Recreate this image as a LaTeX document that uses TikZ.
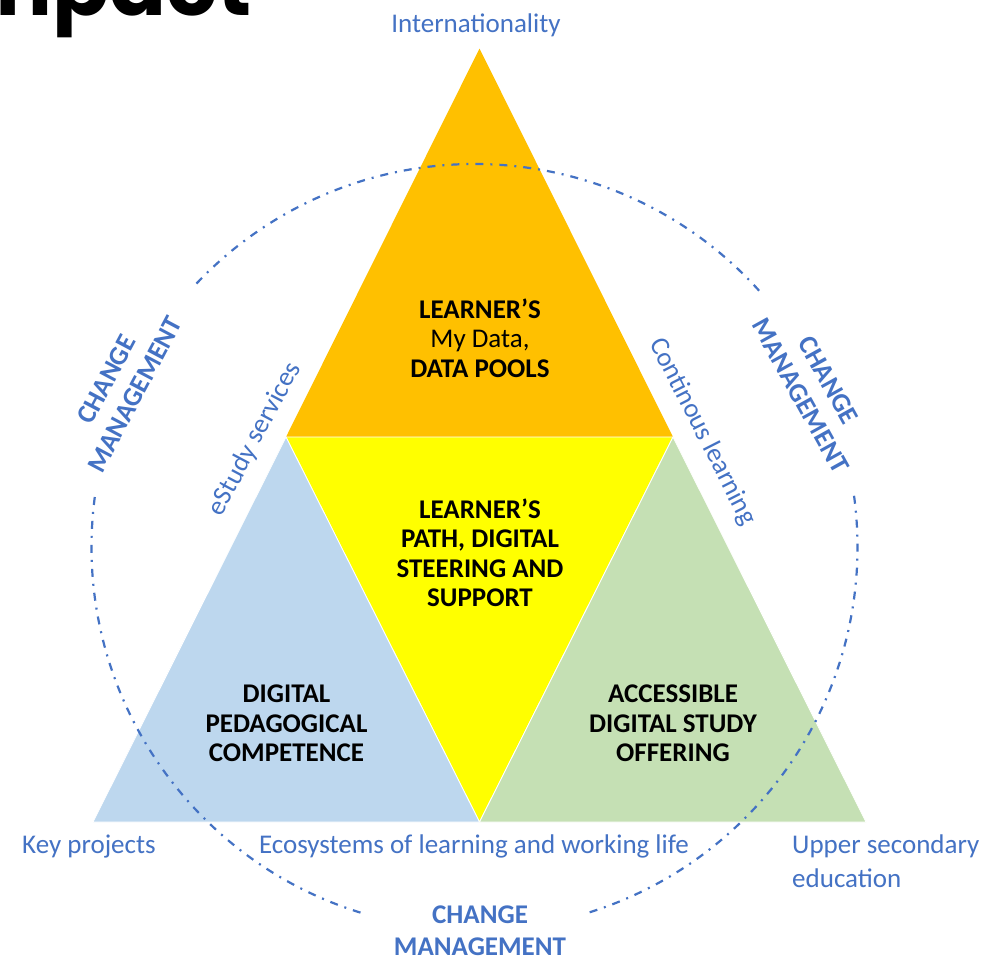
\documentclass[tikz,border=0pt]{standalone}
\usepackage{fontspec}
\setmainfont{Carlito}
\newfontfamily\titlefont{Poppins}
\definecolor{cmblue}{HTML}{4472C4}
\definecolor{torange}{HTML}{FFC000}
\definecolor{tyellow}{HTML}{FFFF00}
\definecolor{tblue}{HTML}{BDD7EE}
\definecolor{tgreen}{HTML}{C5E0B4}
\begin{document}
\begin{tikzpicture}[x=1pt,y=1pt,
  lbl/.style={text=cmblue, font=\fontsize{27}{30}\selectfont, inner sep=0pt},
  cmlbl/.style={text=cmblue, font=\bfseries\fontsize{27}{32}\selectfont, align=center, inner sep=0pt},
  innerlbl/.style={text=black, font=\bfseries\fontsize{27}{29.5}\selectfont, align=center, inner sep=0pt},
  ring/.style={draw=cmblue, line width=2.2pt, dash pattern=on 8pt off 7pt on 2pt off 7pt},
  tri/.style={draw=white, line width=0.8pt, line join=miter}]
\useasboundingbox (0,0) rectangle (983,-959);
\fill[white] (0,0) rectangle (983,-959);
% title fragment
\node[anchor=base east, inner sep=0pt, font=\titlefont\bfseries\fontsize{84}{90}\selectfont] (title) at (252,-15) {Impact};
% triangle vertices
\coordinate (A) at (479.5,-48.6);
\coordinate (L) at (93,-822);
\coordinate (R) at (866,-822);
\coordinate (ML) at (286,-437);
\coordinate (MR) at (673,-437);
\coordinate (B) at (479.5,-822);
\fill[torange] (A) -- (ML) -- (MR) -- cycle;
\filldraw[tri, fill=tyellow] (ML) -- (MR) -- (B) -- cycle;
\filldraw[tri, fill=tblue] (ML) -- (B) -- (L) -- cycle;
\filldraw[tri, fill=tgreen] (MR) -- (R) -- (B) -- cycle;
% dash-dot ring
\coordinate (C) at (474.5,-547);
\draw[ring] (C) ++(42:383) arc[start angle=42, end angle=137, radius=383];
\draw[ring] (C) ++(172.5:383) arc[start angle=172.5, end angle=253, radius=383];
\draw[ring] (C) ++(287.5:383) arc[start angle=287.5, end angle=368.6, radius=383];
% inner labels
\node[innerlbl] (top) at (480,-338) {LEARNER’S\\{\mdseries My Data,}\\DATA POOLS};
\node[innerlbl] (mid) at (480,-553) {LEARNER’S\\PATH, DIGITAL\\STEERING AND\\SUPPORT};
\node[innerlbl] (left) at (286.5,-723.5) {DIGITAL\\PEDAGOGICAL\\COMPETENCE};
\node[innerlbl] (right) at (673,-723.5) {ACCESSIBLE\\DIGITAL STUDY\\OFFERING};
% outer labels
\node[lbl, anchor=base] (intl) at (476,-32) {Internationality};
\node[lbl, anchor=base west] (key) at (22,-853) {Key projects};
\node[lbl, anchor=base] (eco) at (474,-853) {Ecosystems of learning and working life};
\node[lbl, anchor=base west] (upper) at (792,-853) {Upper secondary};
\node[lbl, anchor=base west] (edu) at (792,-887) {education};
\node[lbl, rotate=62] (estudy) at (255,-439) {eStudy services};
\node[lbl, rotate=-63] (cont) at (702.5,-432) {Continous learning};
% change management
\node[cmlbl, rotate=62] (cmleft) at (120.7,-387) {CHANGE\\MANAGEMENT};
\node[cmlbl, rotate=-61] (cmright) at (814.5,-388) {CHANGE\\MANAGEMENT};
\node[cmlbl] (cmbottom) at (480,-931) {CHANGE\\MANAGEMENT};
\end{tikzpicture}
\end{document}
